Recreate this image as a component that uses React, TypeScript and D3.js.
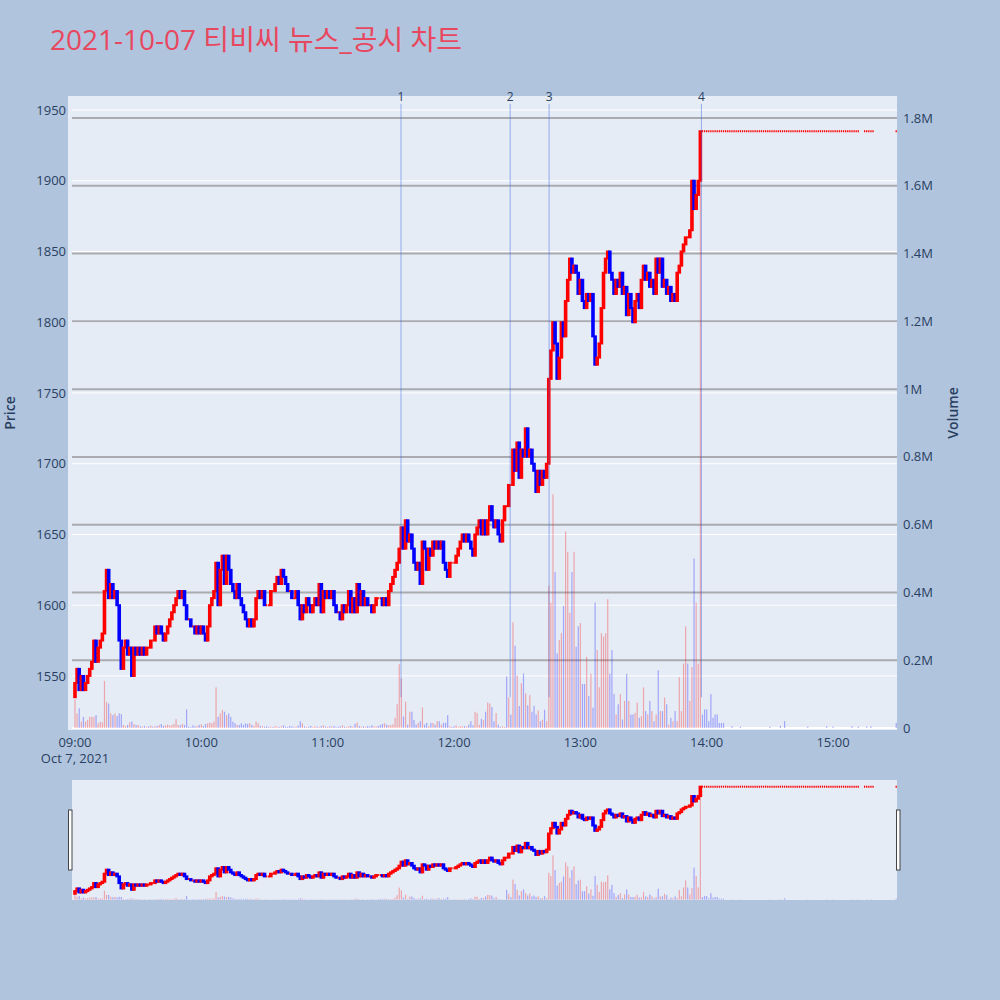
import { useEffect, useRef } from "react";
import * as d3 from "d3";

const title = "2021-10-07 티비씨 뉴스_공시 차트";
const sessionStart = "2021-10-07T09:00:00";
const firstOpen = 1535;

// close of every minute from 09:00 up to 13:57 (open = previous close)
const closes = [
    1545, 1555, 1540, 1550, 1540, 1545, 1550, 1555, 1560, 1575,
    1560, 1570, 1575, 1580, 1610, 1625, 1605, 1615, 1605, 1610,
    1600, 1575, 1555, 1570, 1575, 1565, 1570, 1550, 1570, 1565,
    1570, 1565, 1570, 1565, 1570, 1570, 1575, 1575, 1585, 1580,
    1585, 1580, 1575, 1580, 1585, 1590, 1595, 1600, 1605, 1610,
    1605, 1610, 1600, 1590, 1590, 1585, 1585, 1580, 1585, 1580,
    1585, 1580, 1575, 1585, 1600, 1605, 1610, 1630, 1600, 1625,
    1635, 1615, 1635, 1625, 1615, 1610, 1605, 1615, 1605, 1600,
    1595, 1590, 1585, 1590, 1585, 1590, 1605, 1610, 1605, 1610,
    1600, 1600, 1600, 1610, 1610, 1615, 1620, 1615, 1625, 1620,
    1615, 1610, 1610, 1605, 1605, 1610, 1600, 1590, 1600, 1595,
    1605, 1600, 1595, 1600, 1605, 1600, 1615, 1595, 1610, 1605,
    1610, 1605, 1610, 1600, 1595, 1595, 1590, 1600, 1595, 1600,
    1610, 1595, 1605, 1595, 1615, 1600, 1610, 1600, 1605, 1600,
    1600, 1595, 1600, 1605, 1605, 1605, 1600, 1605, 1600, 1610,
    1615, 1620, 1625, 1630, 1640, 1655, 1640, 1660, 1645, 1650,
    1640, 1630, 1625, 1630, 1615, 1645, 1640, 1625, 1640, 1635,
    1645, 1640, 1645, 1640, 1645, 1630, 1625, 1620, 1630, 1630,
    1630, 1635, 1640, 1645, 1650, 1645, 1650, 1645, 1640, 1635,
    1650, 1655, 1660, 1650, 1660, 1650, 1660, 1670, 1660, 1655,
    1660, 1650, 1645, 1660, 1670, 1670, 1685, 1685, 1710, 1695,
    1715, 1690, 1710, 1705, 1725, 1705, 1710, 1700, 1695, 1680,
    1695, 1685, 1695, 1690, 1700, 1760, 1780, 1800, 1785, 1760,
    1775, 1800, 1790, 1815, 1830, 1845, 1835, 1840, 1835, 1820,
    1830, 1815, 1810, 1820, 1815, 1820, 1790, 1770, 1775, 1785,
    1810, 1835, 1845, 1850, 1835, 1830, 1820, 1830, 1825, 1835,
    1820, 1825, 1805, 1820, 1810, 1800, 1815, 1820, 1810, 1830,
    1840, 1830, 1835, 1825, 1830, 1820, 1845, 1835, 1845, 1825,
    1830, 1820, 1825, 1815, 1820, 1815, 1835, 1840, 1850, 1855,
    1860, 1860, 1865, 1900, 1880, 1890, 1900, 1935,
];

// volume of every minute, thousands of shares
const volumes = [
    84, 43, 58, 19, 33, 19, 24, 33, 33, 33,
    38, 14, 19, 17, 139, 77, 72, 43, 38, 43,
    35, 43, 41, 9, 6, 9, 17, 19, 12, 9,
    9, 5, 4, 6, 3, 5, 7, 4, 5, 6,
    9, 12, 6, 8, 10, 7, 9, 12, 26, 9,
    8, 12, 9, 55, 4, 3, 8, 5, 6, 9,
    11, 6, 12, 14, 16, 14, 19, 120, 33, 43,
    53, 48, 38, 43, 33, 19, 14, 9, 9, 14,
    9, 14, 12, 14, 9, 6, 19, 14, 6, 5,
    4, 5, 3, 4, 3, 6, 4, 3, 5, 8,
    4, 3, 6, 5, 3, 4, 7, 20, 14, 5,
    3, 4, 6, 3, 5, 4, 3, 6, 8, 4,
    3, 5, 4, 6, 3, 4, 5, 8, 4, 3,
    5, 6, 4, 12, 16, 6, 4, 5, 3, 6,
    4, 8, 5, 4, 6, 9, 12, 14, 10, 8,
    8, 11, 30, 70, 188, 146, 34, 78, 10, 48,
    48, 24, 10, 15, 20, 61, 10, 15, 5, 15,
    15, 10, 20, 20, 10, 15, 15, 38, 5, 3,
    5, 8, 3, 5, 5, 6, 4, 10, 20, 8,
    48, 44, 10, 27, 24, 48, 75, 72, 62, 20,
    44, 10, 3, 5, 3, 152, 90, 40, 312, 243,
    155, 65, 132, 161, 102, 67, 97, 48, 65, 40,
    52, 20, 24, 54, 20, 420, 370, 690, 460, 220,
    260, 280, 360, 580, 520, 340, 460, 520, 240, 300,
    310, 130, 130, 210, 95, 160, 60, 370, 230, 120,
    280, 270, 280, 380, 160, 230, 100, 40, 70, 100,
    25, 80, 160, 80, 40, 40, 45, 75, 30, 35,
    120, 50, 40, 80, 50, 20, 40, 170, 50, 50,
    90, 70, 10, 30, 20, 50, 20, 150, 50, 190,
    300, 190, 80, 180, 500, 370, 190, 1750,
];

// after 13:57 the stock sits at the upper limit
const limitPrice = 1935;
const limitRuns = [[298, 372], [375, 379], [390, 390]]; // minutes after 09:00
const limitVolumes = [
    [298, 40], [299, 55], [300, 55], [301, 20], [302, 100], [303, 30], [304, 40],
    [305, 40], [306, 15], [307, 15], [308, 15], [312, 5], [316, 4], [330, 4],
    [335, 6], [337, 20], [348, 4], [357, 5], [360, 4], [369, 5], [372, 4],
    [376, 4], [378, 5], [390, 15],
];

const newsLabels = ["1", "2", "3", "4"];
const newsTimes = ["11:34:50", "12:26:40", "12:45:10", "13:57:30"];

const priceTicks = [1550, 1600, 1650, 1700, 1750, 1800, 1850, 1900, 1950];
const volumeTicks = [0, 200000, 400000, 600000, 800000, 1000000, 1200000, 1400000, 1600000, 1800000];
const hourTicks = ["09:00", "10:00", "11:00", "12:00", "13:00", "14:00", "15:00"];

const font = "'Open Sans', 'Noto Sans CJK KR', sans-serif";
const inkColor = "#2a3f5f";
const upColor = "#ff0000";
const downColor = "#0000ff";

export default function App() {
    const ref = useRef<SVGSVGElement>(null);

    useEffect(() => {
        const svg = d3.select(ref.current);
        svg.selectAll("*").remove();

        const t0 = new Date(sessionStart);
        const atMinute = (m: number) => new Date(t0.getTime() + m * 60000);
        const atClock = (s: string) => new Date(`2021-10-07T${s}`);

        type Candle = { t: Date; o: number; c: number; up: boolean };
        const candles: Candle[] = closes.map((c, i) => {
            const o = i === 0 ? firstOpen : closes[i - 1];
            return { t: atMinute(i), o, c, up: c >= o };
        });
        limitRuns.forEach(([a, b]) => {
            d3.range(a, b + 1).forEach(m => candles.push({ t: atMinute(m), o: limitPrice, c: limitPrice, up: true }));
        });

        const bars = volumes.map((v, i) => ({
            t: atMinute(i),
            v: v * 1000,
            up: closes[i] > (i === 0 ? firstOpen : closes[i - 1]),
        }));
        limitVolumes.forEach(([m, v]) => bars.push({ t: atMinute(m), v: v * 1000, up: false }));

        const lowest = d3.min(candles, d => Math.min(d.o, d.c))!;
        const highest = d3.max(candles, d => Math.max(d.o, d.c))!;

        // main plot area
        const left = 68, right = 897, top = 96, bottom = 730;
        const x = d3.scaleTime().domain([atMinute(-3.32), atMinute(390.38)]).range([left, right]);
        const priceDomain = [1511.8, 1959.9];
        const volDomain = [-5900, 1865000];
        const yPrice = d3.scaleLinear().domain(priceDomain).range([bottom, top]);
        const yVol = d3.scaleLinear().domain(volDomain).range([bottom, top]);

        svg.append("rect").attr("width", 1000).attr("height", 1000).attr("fill", "#b0c4de");

        svg.append("text")
            .attr("x", 50).attr("y", 50)
            .attr("font-family", font).attr("font-size", 28)
            .attr("fill", "#e8485f")
            .text(title);

        svg.append("defs").append("clipPath").attr("id", "plot-clip")
            .append("rect").attr("x", left).attr("y", top).attr("width", right - left).attr("height", bottom - top);

        svg.append("rect")
            .attr("x", left).attr("y", top).attr("width", right - left).attr("height", bottom - top)
            .attr("fill", "#e5ecf6");

        const grid = svg.append("g");
        grid.selectAll("line.price")
            .data(priceTicks).enter().append("line")
                .attr("x1", left + 4).attr("x2", right)
                .attr("y1", d => yPrice(d)).attr("y2", d => yPrice(d))
                .attr("stroke", "#ffffff").attr("stroke-width", 1);
        grid.selectAll("line.vol")
            .data(volumeTicks.filter(d => d > 0)).enter().append("line")
                .attr("x1", left + 4).attr("x2", right)
                .attr("y1", d => yVol(d)).attr("y2", d => yVol(d))
                .attr("stroke", "#a9abb0").attr("stroke-width", 2);
        grid.append("line")
            .attr("x1", left + 4).attr("x2", right)
            .attr("y1", yVol(0)).attr("y2", yVol(0))
            .attr("stroke", "#ffffff").attr("stroke-width", 2);

        const drawSeries = (g: any, yP: any, yV: any) => {
            g.selectAll("rect.vol")
                .data(bars).enter().append("rect")
                    .attr("x", (d: any) => x(d.t) - 0.6)
                    .attr("width", 1.2)
                    .attr("y", (d: any) => yV(d.v))
                    .attr("height", (d: any) => Math.max(0, yV(0) - yV(d.v)))
                    .attr("fill", (d: any) => d.up ? upColor : downColor)
                    .attr("fill-opacity", 0.3);

            const moving = candles.filter(d => d.o !== d.c);
            const flat = candles.filter(d => d.o === d.c);
            g.selectAll("rect.candle")
                .data(moving).enter().append("rect")
                    .attr("x", (d: Candle) => x(d.t) - 0.8)
                    .attr("width", 1.6)
                    .attr("y", (d: Candle) => yP(Math.max(d.o, d.c)))
                    .attr("height", (d: Candle) => Math.abs(yP(d.o) - yP(d.c)))
                    .attr("fill", (d: Candle) => d.up ? upColor : downColor)
                    .attr("stroke", (d: Candle) => d.up ? upColor : downColor)
                    .attr("stroke-width", 2);
            g.selectAll("line.flat")
                .data(flat).enter().append("line")
                    .attr("x1", (d: Candle) => x(d.t) - 0.65)
                    .attr("x2", (d: Candle) => x(d.t) + 0.65)
                    .attr("y1", (d: Candle) => yP(d.c))
                    .attr("y2", (d: Candle) => yP(d.c))
                    .attr("stroke", (d: Candle) => d.up ? upColor : downColor)
                    .attr("stroke-width", 2);
        };

        const plot = svg.append("g").attr("clip-path", "url(#plot-clip)");
        drawSeries(plot, yPrice, yVol);

        // news markers
        const news = svg.append("g");
        newsTimes.forEach((s, i) => {
            const xp = x(atClock(s));
            news.append("line")
                .attr("x1", xp).attr("x2", xp)
                .attr("y1", yPrice(lowest)).attr("y2", yPrice(highest * 1.01))
                .attr("stroke", "rgba(65,105,225,0.5)").attr("stroke-width", 1);
            news.append("text")
                .attr("x", xp).attr("y", yPrice(highest * 1.01) - 3)
                .attr("text-anchor", "middle")
                .attr("font-family", font).attr("font-size", 12)
                .attr("fill", inkColor)
                .text(newsLabels[i]);
        });

        // axes labels
        const axes = svg.append("g").attr("font-family", font).attr("font-size", 13).attr("fill", inkColor);
        axes.selectAll("text.price")
            .data(priceTicks).enter().append("text")
                .attr("x", 66).attr("y", d => yPrice(d)).attr("dy", "0.35em")
                .attr("text-anchor", "end")
                .text(d => d);
        const volLabel = (v: number) => v === 0 ? "0" : `${+(v / 1e6).toFixed(1)}M`;
        axes.selectAll("text.vol")
            .data(volumeTicks).enter().append("text")
                .attr("x", 903).attr("y", d => yVol(d)).attr("dy", "0.35em")
                .text(d => volLabel(d));
        axes.selectAll("text.hour")
            .data(hourTicks).enter().append("text")
                .attr("x", d => x(atClock(`${d}:00`))).attr("y", 747)
                .attr("text-anchor", "middle")
                .text(d => d);
        axes.append("text")
            .attr("x", x(t0)).attr("y", 763)
            .attr("text-anchor", "middle")
            .text("Oct 7, 2021");

        axes.append("text")
            .attr("transform", `translate(15, ${(top + bottom) / 2}) rotate(-90)`)
            .attr("text-anchor", "middle")
            .attr("font-size", 14).attr("font-weight", 600)
            .text("Price");
        axes.append("text")
            .attr("transform", `translate(958, ${(top + bottom) / 2}) rotate(-90)`)
            .attr("text-anchor", "middle")
            .attr("font-size", 14).attr("font-weight", 600)
            .text("Volume");

        // range slider
        const sTop = 780, sBottom = 900, sLeft = 72;
        svg.append("defs").append("clipPath").attr("id", "slider-clip")
            .append("rect").attr("x", sLeft).attr("y", sTop).attr("width", right - sLeft).attr("height", sBottom - sTop);
        svg.append("rect")
            .attr("x", sLeft).attr("y", sTop).attr("width", right - sLeft).attr("height", sBottom - sTop)
            .attr("fill", "#e5ecf6");
        const syPrice = d3.scaleLinear().domain(priceDomain).range([sBottom, sTop]);
        const syVol = d3.scaleLinear().domain(volDomain).range([sBottom, sTop]);
        const slider = svg.append("g").attr("clip-path", "url(#slider-clip)");
        drawSeries(slider, syPrice, syVol);

        [sLeft - 2, right + 1].forEach(hx => {
            svg.append("rect")
                .attr("x", hx - 1.5).attr("y", 810).attr("width", 3.5).attr("height", 60)
                .attr("fill", "#ffffff").attr("stroke", "#444444").attr("stroke-width", 1);
        });

        return () => {
            d3.select(ref.current).selectAll("*").remove();
        };
    }, [ref]);

    return (
        <svg
            ref={ref}
            width={1000}
            height={1000}
            style={{ position: "absolute", left: 0, top: 0, display: "block" }}
        />
    );
}
